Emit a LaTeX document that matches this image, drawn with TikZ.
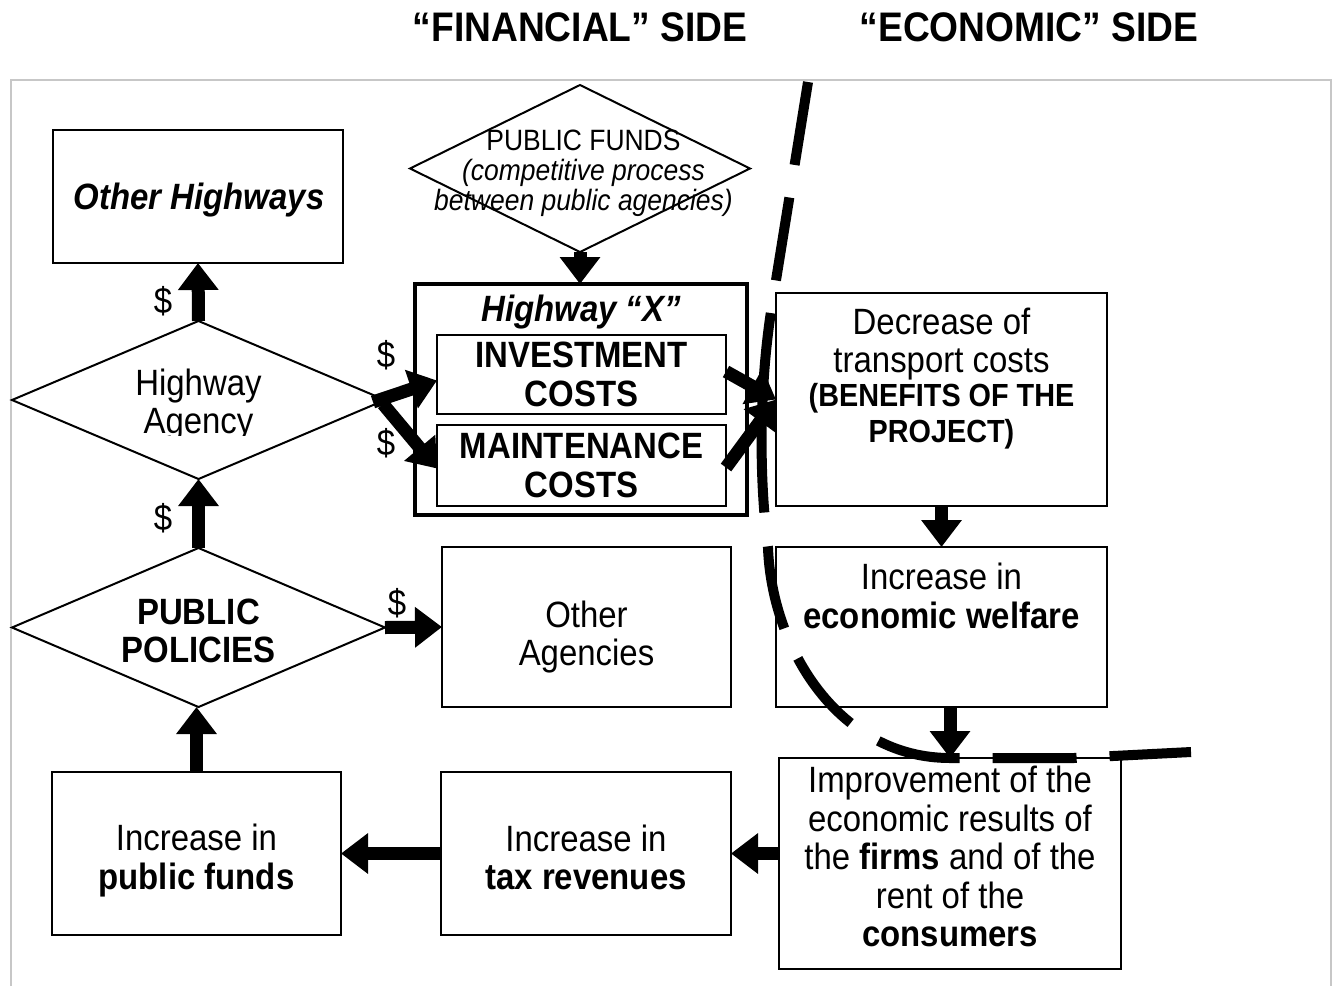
\documentclass[tikz,border=0pt]{standalone}
\usepackage{fontspec}
\setmainfont{Liberation Sans}[FakeStretch=0.9]
\usetikzlibrary{arrows.meta,shapes.geometric}

\begin{document}
\begin{tikzpicture}[x=1pt,y=-1pt,
  every node/.style={inner sep=0pt, outer sep=0pt},
  txt/.style={font=\fontsize{36.6}{38.5}\selectfont, align=center},
  smalltxt/.style={font=\fontsize{29.4}{30}\selectfont, align=center},
  title/.style={font=\fontsize{41.3}{44}\selectfont\bfseries},
  box/.style={draw, line width=2pt},
  diam/.style={draw, line width=2pt, diamond},
  blk/.style={line width=13pt, -{Triangle[width=39pt,length=27pt]}},
  divider/.style={line width=10pt, dash pattern=on 84pt off 33pt on 84pt off 33pt on 200pt off 34pt on 84pt off 33pt on 84pt off 33pt on 84pt off 33pt on 84pt off 33pt on 84pt off 33pt on 84pt off 33pt on 84pt off 33pt},
  frame/.style={draw=black!22, line width=2pt}
]
\useasboundingbox (0,0) rectangle (1338,986);

% outer frame, open at the bottom
\draw[frame] (11,986) -- (11,80) -- (1331,80) -- (1331,986);

% headings
\node[title] (tfin) at (580,27) {“FINANCIAL” SIDE};
\node[title] (teco) at (1029,27) {“ECONOMIC” SIDE};

% financial side
\node[box, minimum width=290pt, minimum height=133pt] (oh) at (198,196.5) {};
\node[txt, font=\fontsize{36.6}{38.5}\selectfont\bfseries\itshape] (ohtxt) at (199,200.5) {Other Highways};

\node[diam, minimum width=340pt, minimum height=167pt] (fund) at (580,168.5) {};
\node[smalltxt] (fundtxt) at (583.5,173) {PUBLIC FUNDS\\\itshape (competitive process\\\itshape between public agencies)};

\node[draw, line width=4pt, minimum width=332pt, minimum height=231pt] (hx) at (581,399.5) {};
\node[txt, font=\fontsize{36.6}{38.5}\selectfont\bfseries\itshape] (hxt) at (581,312) {Highway “X”};
\node[box, txt, minimum width=289pt, minimum height=79pt] (inv) at (581.5,374.5) {\bfseries INVESTMENT\\\bfseries COSTS};
\node[box, txt, minimum width=289pt, minimum height=81pt] (mnt) at (581.5,465.5) {\bfseries MAINTENANCE\\\bfseries COSTS};

\node[diam, minimum width=373pt, minimum height=158pt] (ha) at (198.5,400) {};
\begin{scope}
  \clip (100,350) rectangle (300,435);
  \node[txt] (hatxt) at (198.5,405) {Highway\\Agency};
\end{scope}

\node[diam, minimum width=373pt, minimum height=159pt] (pp) at (198.5,627.5) {};
\node[txt, font=\fontsize{36.6}{38.5}\selectfont\bfseries] (pptxt) at (198.5,631) {PUBLIC\\POLICIES};

\node[box, minimum width=289pt, minimum height=160pt] (oa) at (586.5,627) {};
\node[txt] (oatxt) at (586.5,637) {Other\\Agencies};
\node[box, minimum width=290pt, minimum height=163pt] (tax) at (586,853.5) {};
\node[txt] (taxtxt) at (586,857.5) {Increase in\\\bfseries tax revenues};
\node[box, minimum width=289pt, minimum height=163pt] (pf) at (196.5,853.5) {};
\node[txt] (pftxt) at (196.5,860.5) {Increase in\\\bfseries public funds};

% economic side
\node[box, minimum width=331pt, minimum height=213pt] (dec) at (941.5,399.5) {};
\node[txt, anchor=north] (dectxt) at (941.5,308) {Decrease of\\transport costs\\[-5pt]\fontsize{32}{35}\selectfont\bfseries (BENEFITS OF THE\\[-2pt]\fontsize{32}{35}\selectfont\bfseries PROJECT)};

\node[box, minimum width=331pt, minimum height=160pt] (wel) at (941.5,627) {};
\node[txt, anchor=north] (weltxt) at (941.5,563) {Increase in\\\bfseries economic welfare};

\node[box, minimum width=342pt, minimum height=211pt] (imp) at (950,863.5) {};
\node[txt] (imptxt) at (950,856.5) {Improvement of the\\economic results of\\the \textbf{firms} and of the\\rent of the\\\bfseries consumers};

% money flows
\draw[blk] (ha.north) -- (oh.south);
\draw[blk] (pp.north) -- (ha.south);
\draw[blk] (pf.north) -- (pf.north |- pp.south);
\draw[blk] (tax.west) -- (pf.east);
\draw[blk] (imp.west |- tax.east) -- (tax.east);
\draw[blk] (pp.east) -- (oa.west);
\draw[blk] (fund.south) -- (fund.south |- hx.north);
\draw[blk] ([xshift=-12pt,yshift=-2pt]ha.east) -- ([yshift=-6pt]inv.west);
\draw[blk] ([xshift=-2pt,yshift=-4pt]ha.east) -- ([yshift=-3pt]mnt.west);
\draw[blk] ([yshift=3pt]inv.east) -- (dec.west);
\draw[blk] ([yshift=-2pt]mnt.east) -- (dec.west);
\draw[blk] (dec.south) -- (wel.north);
\draw[blk] (imp.north |- wel.south) -- (imp.north);

% dollar labels
\node[txt] (d1) at (163,301) {\$};
\node[txt] (d2) at (386,355) {\$};
\node[txt] (d3) at (386,443) {\$};
\node[txt] (d4) at (163,518) {\$};
\node[txt] (d5) at (397,603) {\$};

% boundary between the two sides
\draw[divider] (808,82) -- (772,305) .. controls (760,380) and (758,470) .. (768,548)
  .. controls (772,650) and (840,758) .. (950,758) -- (1074,758) -- (1191,752);
\end{tikzpicture}
\end{document}
